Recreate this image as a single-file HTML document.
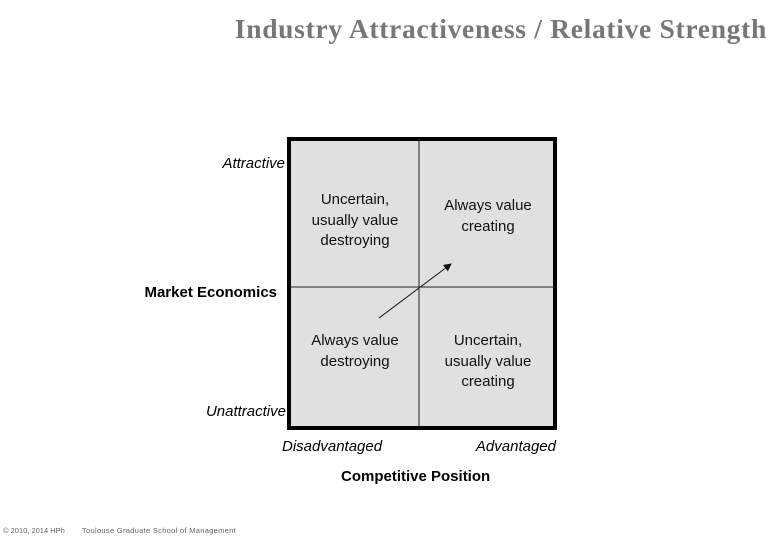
<!DOCTYPE html>
<html><head><meta charset="utf-8"><style>
body{margin:0;width:780px;height:540px;background:#fff;position:relative;overflow:hidden;font-family:"Liberation Sans",sans-serif}
.a{position:absolute}
.q{position:absolute;text-align:center;font-size:15px;line-height:20.5px;color:#111}
</style></head><body>
<div class="a" style="right:13px;top:13px;font-family:'Liberation Serif',serif;font-weight:bold;font-size:27.5px;letter-spacing:0.7px;color:#777">Industry Attractiveness / Relative Strength</div>
<svg class="a" style="left:0;top:0" width="780" height="540">
<defs><marker id="ah" markerWidth="8" markerHeight="8" refX="7" refY="4" orient="auto"><path d="M0,0L8,4L0,8z" fill="#111"/></marker></defs>
<rect x="289" y="139" width="266" height="289" fill="#e0e0e0" stroke="#000" stroke-width="4"/>
<line x1="419" y1="139" x2="419" y2="428" stroke="#222" stroke-width="1"/>
<line x1="289" y1="287" x2="555" y2="287" stroke="#222" stroke-width="1"/>
<line x1="379" y1="318" x2="451" y2="264" stroke="#111" stroke-width="1" marker-end="url(#ah)"/>
</svg>
<div class="q" style="left:291px;width:128px;top:190px">Uncertain,<br>usually value<br>destroying</div>
<div class="q" style="left:421px;width:134px;top:196px">Always value<br>creating</div>
<div class="q" style="left:291px;width:128px;top:331px">Always value<br>destroying</div>
<div class="q" style="left:421px;width:134px;top:331px">Uncertain,<br>usually value<br>creating</div>
<div class="a" style="right:495px;top:155px;font-style:italic;font-size:15px">Attractive</div>
<div class="a" style="right:494px;top:403px;font-style:italic;font-size:15px">Unattractive</div>
<div class="a" style="right:503px;top:284px;font-weight:bold;font-size:15px">Market Economics</div>
<div class="a" style="left:282px;top:438px;font-style:italic;font-size:15px">Disadvantaged</div>
<div class="a" style="right:224px;top:438px;font-style:italic;font-size:15px">Advantaged</div>
<div class="a" style="left:341px;top:468px;font-weight:bold;font-size:15px">Competitive Position</div>
<div class="a" style="left:3px;top:526px;font-size:7.5px;color:#666">© 2010, 2014 HPh</div>
<div class="a" style="left:82px;top:526px;font-size:7.5px;letter-spacing:0.3px;color:#666">Toulouse Graduate School of Management</div>
</body></html>
